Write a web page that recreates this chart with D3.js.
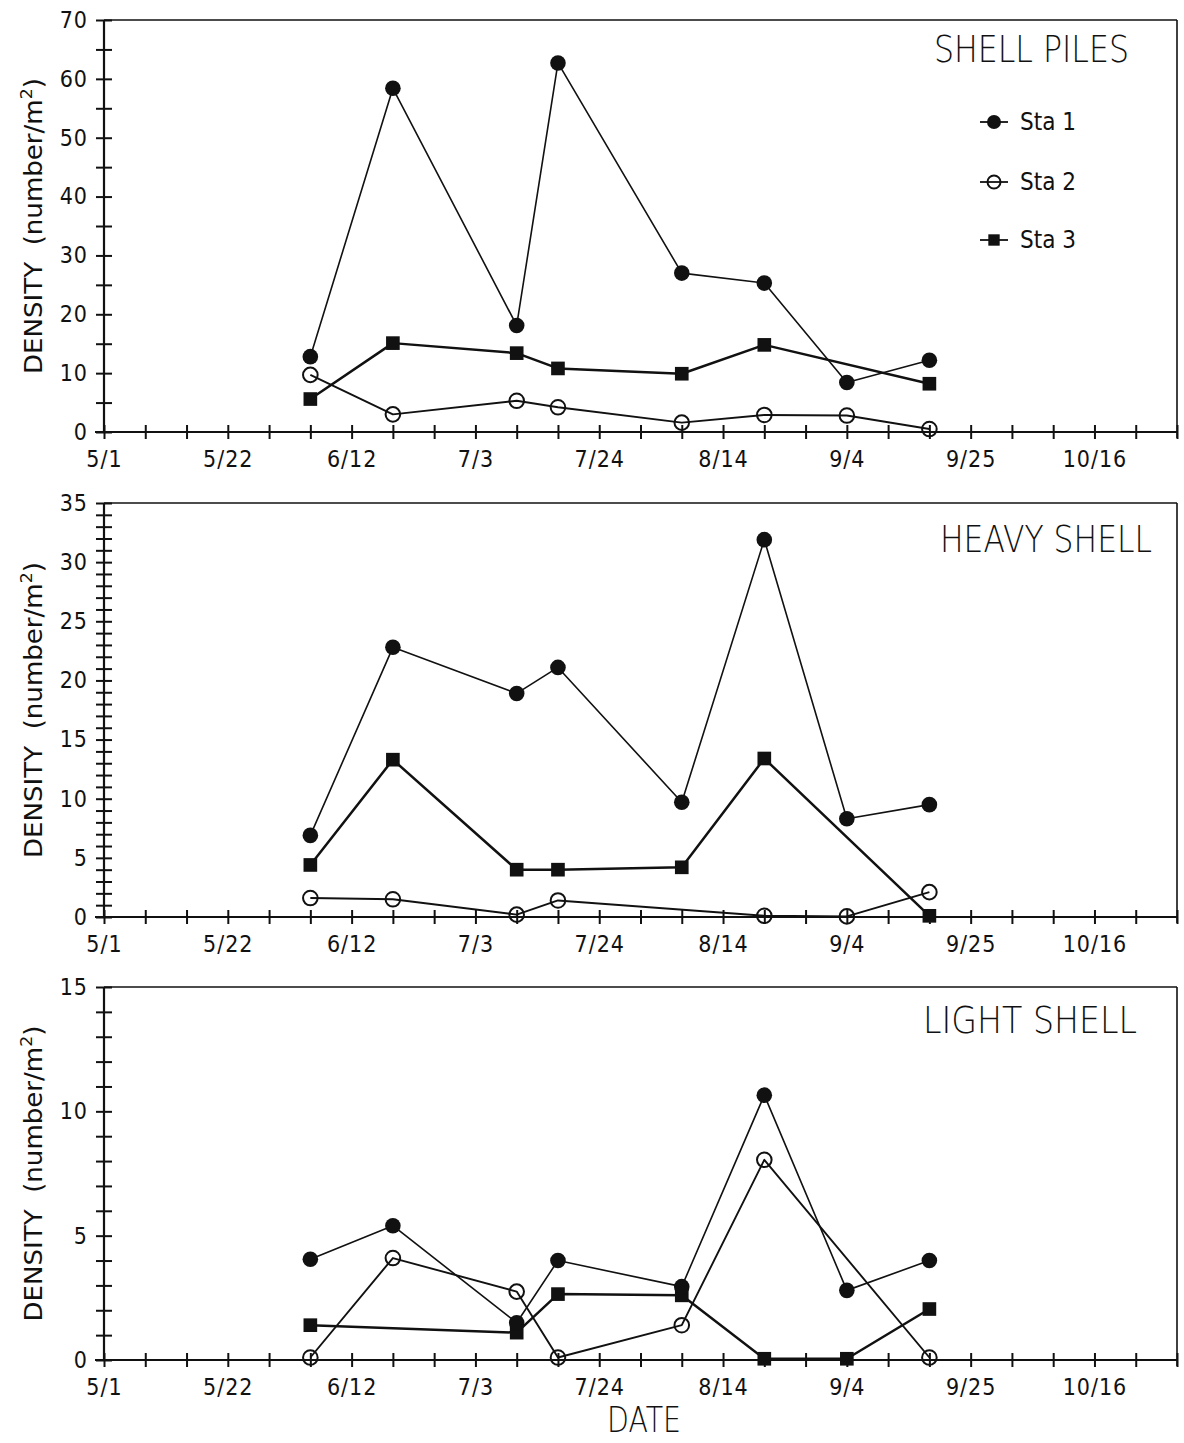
<!DOCTYPE html>
<html>
<head>
<meta charset="utf-8">
<script src="https://cdn.jsdelivr.net/npm/d3@7"></script>
<style>
  body { margin: 0; background: #fff; }
  svg text { font-family: "DejaVu Sans Condensed", "DejaVu Sans", sans-serif; fill: #111; }
  svg text.thin { font-family: "DejaVu Sans", sans-serif; font-weight: 200; }
</style>
</head>
<body>
<svg id="chart" width="1184" height="1443"></svg>
<script>
// sampling dates and x tick labels
const sampleDates = ['6/5', '6/19', '7/10', '7/17', '8/7', '8/21', '9/4', '9/18'];
const tickLabels = ['5/1', '5/22', '6/12', '7/3', '7/24', '8/14', '9/4', '9/25', '10/16'];
const stations = ['Sta 1', 'Sta 2', 'Sta 3'];
const panelTitles = ['SHELL PILES', 'HEAVY SHELL', 'LIGHT SHELL'];

// densities (number/m2), null = not sampled
const shellPilesSta1 = [12.8, 58.4, 18.1, 62.7, 27.0, 25.3, 8.4, 12.2];
const shellPilesSta2 = [9.7, 3.0, 5.3, 4.2, 1.6, 2.9, 2.8, 0.5];
const shellPilesSta3 = [5.6, 15.1, 13.4, 10.8, 9.9, 14.8, null, 8.2];

const heavyShellSta1 = [6.9, 22.8, 18.9, 21.1, 9.7, 31.9, 8.3, 9.5];
const heavyShellSta2 = [1.6, 1.5, 0.2, 1.4, null, 0.1, 0.05, 2.1];
const heavyShellSta3 = [4.4, 13.3, 4.0, 4.0, 4.2, 13.4, null, 0.1];

const lightShellSta1 = [4.05, 5.4, 1.5, 4.0, 2.95, 10.65, 2.8, 4.0];
const lightShellSta2 = [0.1, 4.1, 2.75, 0.1, 1.4, 8.05, null, 0.1];
const lightShellSta3 = [1.4, null, 1.1, 2.65, 2.6, 0.05, 0.05, 2.05];

// y axis extents
const yMaxes = [70, 35, 15];
const yMinorSteps = [5, 1, 1];
const yLabelSteps = [10, 5, 5];

const panels = [
  { title: panelTitles[0], series: [shellPilesSta1, shellPilesSta2, shellPilesSta3], yMax: yMaxes[0], minor: yMinorSteps[0], major: yLabelSteps[0] },
  { title: panelTitles[1], series: [heavyShellSta1, heavyShellSta2, heavyShellSta3], yMax: yMaxes[1], minor: yMinorSteps[1], major: yLabelSteps[1] },
  { title: panelTitles[2], series: [lightShellSta1, lightShellSta2, lightShellSta3], yMax: yMaxes[2], minor: yMinorSteps[2], major: yLabelSteps[2] }
];

// layout
const left = 104, right = 1177;
const layout = [
  { top: 20, bottom: 432, tx0: 934, tx1: 1129, tBase: 62 },
  { top: 503, bottom: 917, tx0: 940, tx1: 1152, tBase: 552 },
  { top: 987, bottom: 1360, tx0: 923, tx1: 1137, tBase: 1033 }
];
const ink = '#111';

const svg = d3.select('#chart');
const parse = d3.timeParse('%m/%d/%Y');
const toDate = s => parse(s + '/1985');
const fmt = d3.timeFormat('%-m/%-d');

const x = d3.scaleTime()
  .domain([toDate('5/1'), toDate('10/30')])
  .range([left, right]);
const weekTicks = d3.timeDay.range(toDate('5/1'), d3.timeDay.offset(toDate('10/30'), 1), 7);

function marker(sel, k, px, py, r) {
  if (k === 0) {
    sel.append('circle').attr('cx', px).attr('cy', py).attr('r', r)
      .attr('fill', ink);
  } else if (k === 1) {
    sel.append('circle').attr('cx', px).attr('cy', py).attr('r', r - 0.5)
      .attr('fill', 'none').attr('stroke', ink).attr('stroke-width', 2);
  } else {
    const s = r * 1.75;
    sel.append('rect').attr('x', px - s / 2).attr('y', py - s / 2)
      .attr('width', s).attr('height', s).attr('fill', ink);
  }
}

// squeeze a plotter-style label into the width it has in the reference
function fitText(t, px, py, width) {
  const w = t.node().getComputedTextLength();
  t.attr('transform', `translate(${px},${py}) scale(${width / w},1)`);
}

const lineWidths = [1.6, 1.9, 2.5];

panels.forEach((p, i) => {
  const L = layout[i];
  const g = svg.append('g');
  const y = d3.scaleLinear().domain([0, p.yMax]).range([L.bottom, L.top]);

  // frame
  g.append('line').attr('x1', left).attr('x2', right).attr('y1', L.top).attr('y2', L.top)
    .attr('stroke', ink).attr('stroke-width', 1.6);
  g.append('line').attr('x1', right).attr('x2', right).attr('y1', L.top).attr('y2', L.bottom + 6)
    .attr('stroke', ink).attr('stroke-width', 1.6);

  // y axis
  const yAxis = d3.axisLeft(y)
    .tickValues(d3.range(0, p.yMax + 0.001, p.minor))
    .tickSize(0)
    .tickPadding(16)
    .tickFormat(v => v % p.major === 0 ? v : '');
  const ya = g.append('g').attr('transform', `translate(${left},0)`).call(yAxis);
  ya.select('.domain').remove();
  ya.selectAll('.tick line').attr('x1', -8).attr('x2', 8)
    .attr('stroke', ink).attr('stroke-width', 2);
  ya.selectAll('.tick text').attr('font-size', 23).attr('letter-spacing', 1);
  g.append('line').attr('x1', left).attr('x2', left).attr('y1', L.top).attr('y2', L.bottom)
    .attr('stroke', ink).attr('stroke-width', 2.2);

  // x axis
  const xAxis = d3.axisBottom(x)
    .tickValues(weekTicks)
    .tickSize(0)
    .tickPadding(19)
    .tickFormat(d => tickLabels.includes(fmt(d)) ? fmt(d) : '');
  const xa = g.append('g').attr('transform', `translate(0,${L.bottom})`).call(xAxis);
  xa.select('.domain').remove();
  xa.selectAll('.tick line').attr('y1', -7).attr('y2', 7)
    .attr('stroke', ink).attr('stroke-width', 2);
  xa.selectAll('.tick text').attr('font-size', 23).attr('letter-spacing', 1);
  g.append('line').attr('x1', left - 9).attr('x2', right).attr('y1', L.bottom).attr('y2', L.bottom)
    .attr('stroke', ink).attr('stroke-width', 2.2);

  // y title
  const yt = g.append('text')
    .attr('transform', `translate(42,${(L.top + L.bottom) / 2}) rotate(-90)`)
    .attr('text-anchor', 'middle')
    .attr('font-size', 24)
    .attr('textLength', 296)
    .attr('lengthAdjust', 'spacingAndGlyphs');
  yt.append('tspan').text('DENSITY  (number/m').attr('xml:space', 'preserve');
  yt.append('tspan').text('2').attr('font-size', 16).attr('dy', -10);
  yt.append('tspan').text(')').attr('dy', 10);

  // panel title
  const tt = g.append('text')
    .attr('class', 'thin')
    .attr('font-size', 38)
    .text(p.title);
  fitText(tt, L.tx0, L.tBase, L.tx1 - L.tx0);

  // series
  const pts = p.series.map(vals =>
    sampleDates.map((d, j) => ({ date: toDate(d), v: vals[j] })).filter(o => o.v != null));

  const line = d3.line().x(o => x(o.date)).y(o => y(o.v));
  pts.forEach((s, k) => {
    g.append('path').attr('d', line(s))
      .attr('fill', 'none').attr('stroke', ink)
      .attr('stroke-width', lineWidths[k]).attr('stroke-linejoin', 'round');
  });
  [2, 1, 0].forEach(k => {
    pts[k].forEach(o => marker(g, k, x(o.date), y(o.v), 7.8));
  });
});

// legend in top panel
const legendY = [122, 182, 240];
const leg = svg.append('g');
stations.forEach((name, k) => {
  leg.append('line').attr('x1', 980).attr('x2', 1008).attr('y1', legendY[k]).attr('y2', legendY[k])
    .attr('stroke', ink).attr('stroke-width', 1.8);
  marker(leg, k, 994, legendY[k], k === 2 ? 6.5 : 7);
  leg.append('text').attr('x', 1020).attr('y', legendY[k] + 8)
    .attr('font-size', 24).text(name);
});

// x title
const xt = svg.append('text')
  .attr('class', 'thin')
  .attr('text-anchor', 'middle')
  .attr('font-size', 36)
  .text('DATE');
fitText(xt, 644, 1432, 74);
</script>
</body>
</html>
